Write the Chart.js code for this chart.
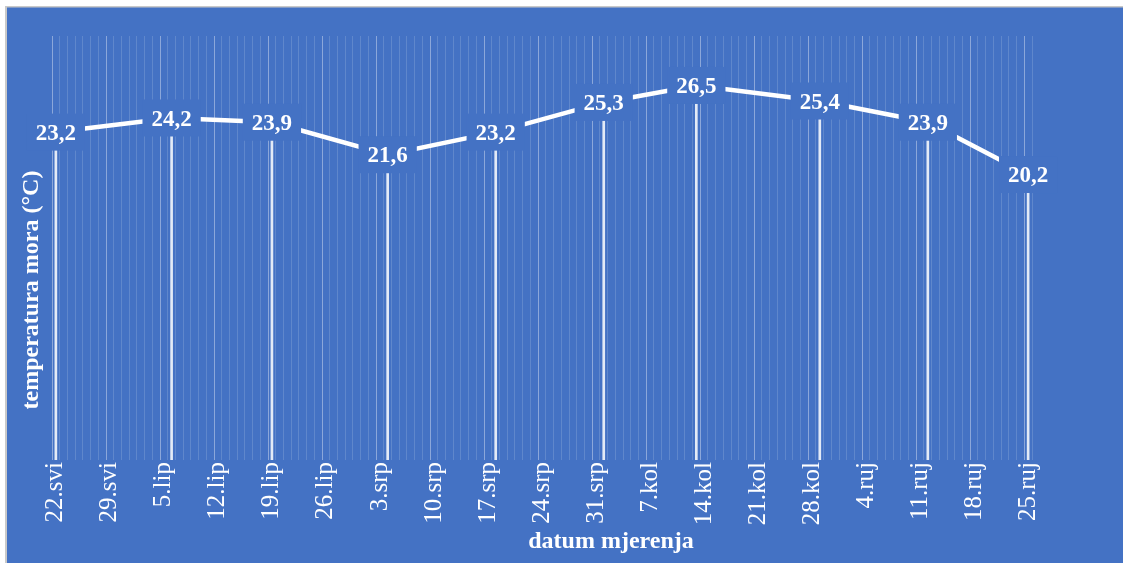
<!DOCTYPE html>
<html><head><meta charset="utf-8">
<script src="https://cdn.jsdelivr.net/npm/chart.js@4.4.0/dist/chart.umd.min.js"></script>
<style>html,body{margin:0;padding:0;background:#fff;overflow:hidden}canvas{display:block}</style>
</head><body>
<canvas id="c" width="1123" height="563"></canvas>
<script>
// ---- data ----
const monthNames = ['svi', 'lip', 'srp', 'kol', 'ruj'];
const monthLengths = [31, 30, 31, 31, 30];
const firstDay = 22;      // 22.svi
const lastDay = 25;       // 25.ruj
const labelStep = 7;      // one tick label per week

const measureDates = ['22.svi', '6.lip', '19.lip', '4.srp', '18.srp', '1.kol', '13.kol', '29.kol', '12.ruj', '25.ruj'];
const temperatures = [23.2, 24.2, 23.9, 21.6, 23.2, 25.3, 26.5, 25.4, 23.9, 20.2];

const yTitle = 'temperatura mora (°C)';
const xTitle = 'datum mjerenja';

// daily categories (axis days)
const days = [];
monthNames.forEach((m, mi) => {
  const from = mi === 0 ? firstDay : 1;
  const to = mi === monthNames.length - 1 ? lastDay : monthLengths[mi];
  for (let d = from; d <= to; d++) days.push(d + '.' + m);
});

const BLUE = '#4472C4';
const SERIF = '"Liberation Serif", "Times New Roman", serif';

const points = measureDates.map((d, i) => ({ x: d, y: temperatures[i] }));

const bgPlugin = {
  id: 'bg',
  beforeDraw(chart) {
    const c = chart.ctx, W = chart.width, H = chart.height;
    c.save();
    c.fillStyle = '#ffffff'; c.fillRect(0, 0, W, H);
    c.fillStyle = '#c9c9c9'; c.fillRect(5, 6, W - 5, H - 6);
    c.fillStyle = BLUE; c.fillRect(7, 7.5, W - 7, H - 7.5);
    c.restore();
  }
};

const labelPlugin = {
  id: 'valueLabels',
  afterDatasetsDraw(chart) {
    const c = chart.ctx;
    const meta = chart.getDatasetMeta(1);
    c.save();
    c.font = 'bold 23px ' + SERIF;
    c.textAlign = 'center';
    c.textBaseline = 'alphabetic';
    meta.data.forEach((el, i) => {
      const txt = temperatures[i].toFixed(1).replace('.', ',');
      const tw = c.measureText(txt).width;
      const bw = tw + 18, bh = 37;
      c.fillStyle = BLUE;
      c.fillRect(el.x - bw / 2, el.y - bh / 2, bw, bh);
      c.fillStyle = '#ffffff';
      c.fillText(txt, el.x, el.y + 23 * 0.335);
    });
    c.restore();
  }
};

const titlePlugin = {
  id: 'titles',
  afterDraw(chart) {
    const c = chart.ctx;
    c.save();
    c.fillStyle = '#ffffff';
    c.font = 'bold 24px ' + SERIF;
    c.textAlign = 'center';
    c.textBaseline = 'alphabetic';
    c.fillText(xTitle, 611, 548);
    c.translate(38, 290);
    c.rotate(-Math.PI / 2);
    c.fillText(yTitle, 0, 0);
    c.restore();
  }
};

new Chart(document.getElementById('c'), {
  type: 'bar',
  data: {
    labels: days,
    datasets: [
      {
        type: 'bar',
        data: points,
        backgroundColor: 'rgba(255,255,255,0.85)',
        barThickness: 2,
        order: 2
      },
      {
        type: 'line',
        data: points,
        borderColor: '#ffffff',
        borderWidth: 4.5,
        pointRadius: 0,
        tension: 0,
        order: 1
      }
    ]
  },
  options: {
    responsive: false,
    animation: false,
    events: [],
    layout: { padding: { left: 52, right: 91, top: 36, bottom: 0 } },
    plugins: { legend: { display: false }, tooltip: { enabled: false } },
    scales: {
      x: {
        type: 'category',
        offset: true,
        border: { display: false },
        grid: {
          offset: true,
          drawTicks: false,
          lineWidth: 1,
          color: (ctx) => (ctx.index % labelStep === 0 ? 'rgba(255,255,255,0.38)' : 'rgba(255,255,255,0.15)')
        },
        ticks: {
          autoSkip: false,
          maxRotation: 90,
          minRotation: 90,
          padding: 2,
          color: '#ffffff',
          font: { family: SERIF, size: 25 },
          callback: (v, i) => (i % labelStep === 0 ? days[i] : '')
        },
        afterFit: (s) => { s.height = 103; }
      },
      y: {
        display: false,
        min: 0,
        max: 30
      }
    }
  },
  plugins: [bgPlugin, labelPlugin, titlePlugin]
});
</script>
</body></html>
